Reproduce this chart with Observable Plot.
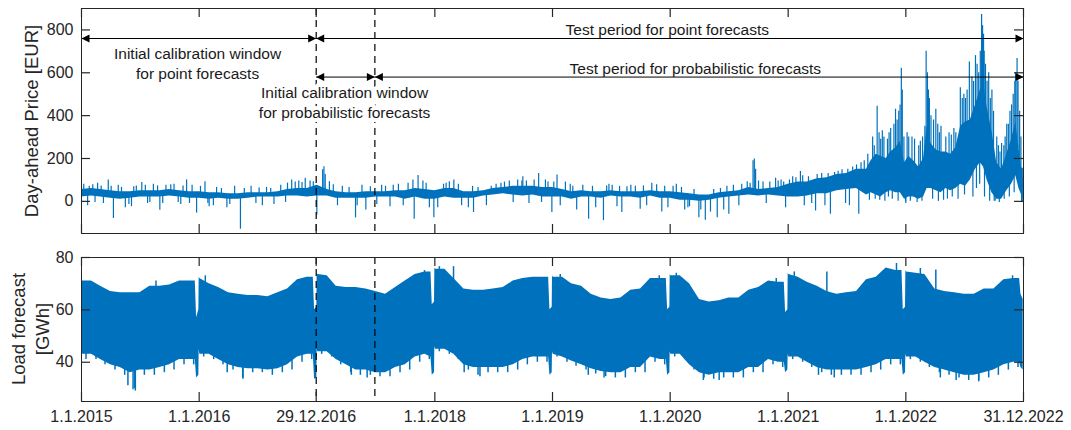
<!DOCTYPE html>
<html><head><meta charset="utf-8">
<script src="https://cdn.jsdelivr.net/npm/d3@7"></script>
<script src="https://cdn.jsdelivr.net/npm/@observablehq/plot@0.6"></script>
<style>
body{margin:0;background:#fff;font-family:"Liberation Sans",Arial,sans-serif;}
#wrap{position:relative;width:1071px;height:430px;overflow:hidden;}
.panel{position:absolute;left:0;}
.ylab{position:absolute;font-size:18.5px;color:#262626;white-space:nowrap;text-align:center;line-height:24px;transform:translate(-50%,-50%) rotate(-90deg);}
</style></head><body>
<div id="wrap">
  <div id="top" class="panel" style="top:0"></div>
  <div id="bot" class="panel" style="top:240px"></div>
  <div class="ylab" style="left:32px;top:120.5px">Day-ahead Price [EUR]</div>
  <div class="ylab" style="left:30.5px;top:328.7px">Load forecast<br>[GWh]</div>
</div>
<script>
// ---------- axes / categories ----------
const xTickDates = ["2015-01-01","2016-01-01","2016-12-29","2018-01-01","2019-01-01","2020-01-01","2021-01-01","2022-01-01","2022-12-31T23:00:00Z"];
const xTickLabels = ["1.1.2015","1.1.2016","29.12.2016","1.1.2018","1.1.2019","1.1.2020","1.1.2021","1.1.2022","31.12.2022"];
const priceTicks = [0,200,400,600,800];
const loadTicks = [40,60,80];
const splitDates = ["2016-12-29","2017-06-29"];

// ---------- price: monthly core band Jan 2015 .. Aug 2021 ----------
const priceMonthLow = [
 20,25,20,15,10,15,20,20,20,25,20,15,
 15,10,15,10,10,15,20,20,20,25,25,20,
 25,25,15,15,15,15,20,20,20,10,20,10,
 10,20,15,15,15,25,30,35,30,25,30,20,
 20,20,10,20,20,15,25,20,20,15,25,15,
 15,5,5,0,5,15,20,25,30,25,30,25,
 20,20,25,35,35,50,55,60];
const priceMonthHigh = [
 55,60,55,50,45,45,50,50,50,55,50,45,
 45,40,40,35,35,40,40,40,45,55,60,60,
 75,55,45,40,40,45,45,45,50,50,60,55,
 50,60,60,45,45,50,60,65,70,70,70,65,
 65,55,45,50,45,45,50,45,45,45,50,45,
 45,40,35,30,30,40,45,50,65,55,60,65,
 80,90,90,105,110,125,130,150];

// ---------- price: core band Sep 2021 .. Dec 2022 ----------
const priceLateDates = ["2021-09-01","2021-09-15","2021-10-01","2021-10-15","2021-11-01","2021-11-15","2021-12-01","2021-12-15","2021-12-28","2022-01-10","2022-01-25","2022-02-10","2022-02-25","2022-03-08","2022-03-20","2022-04-05","2022-04-20","2022-05-05","2022-05-20","2022-06-05","2022-06-20","2022-07-05","2022-07-20","2022-08-05","2022-08-20","2022-08-30","2022-09-10","2022-09-25","2022-10-10","2022-10-25","2022-11-10","2022-11-25","2022-12-08","2022-12-18","2022-12-31"];
const priceLateLow  = [30,40,30,20,40,50,40,40,10,20,20,10,20,60,60,50,40,60,50,60,80,70,100,150,180,160,100,40,10,10,50,80,120,60,10];
const priceLateHigh = [150,190,220,210,200,230,250,280,180,210,190,160,200,350,270,240,230,230,220,250,350,370,380,450,520,560,440,330,180,150,220,290,370,250,100];

// ---------- price: individual hourly spikes ----------
const priceSpikeDates = [
 "2015-01-08","2015-01-20","2015-01-25","2015-02-05","2015-02-12","2015-02-20","2015-03-03","2015-03-10","2015-03-25","2015-04-03","2015-04-10","2015-04-25","2015-05-05","2015-05-17","2015-05-28","2015-06-05","2015-06-12","2015-06-20","2015-07-07","2015-07-18","2015-07-25","2015-08-01","2015-08-12","2015-08-25","2015-09-01","2015-09-10","2015-09-20","2015-10-05","2015-10-15","2015-10-28","2015-11-05","2015-11-12","2015-11-23","2015-12-02","2015-12-10","2015-12-24",
 "2016-01-05","2016-01-19","2016-01-28","2016-02-01","2016-02-14","2016-02-24","2016-03-10","2016-03-27","2016-04-05","2016-04-20","2016-05-08","2016-05-20","2016-06-10","2016-06-25","2016-07-05","2016-07-15","2016-07-28","2016-08-10","2016-08-20","2016-09-10","2016-09-25","2016-10-01","2016-10-14","2016-10-25","2016-11-05","2016-11-15","2016-11-25","2016-12-10","2016-12-20","2016-12-31",
 "2017-01-18","2017-01-22","2017-01-26","2017-02-08","2017-02-20","2017-03-05","2017-03-20","2017-04-10","2017-04-30","2017-05-05","2017-05-20","2017-06-01","2017-06-15","2017-07-05","2017-07-20","2017-08-01","2017-08-15","2017-08-25","2017-09-10","2017-09-25","2017-10-10","2017-10-25","2017-10-29","2017-11-10","2017-11-25","2017-12-05","2017-12-15","2017-12-29",
 "2018-01-10","2018-01-28","2018-02-05","2018-02-15","2018-03-01","2018-03-15","2018-03-25","2018-04-15","2018-04-28","2018-05-01","2018-05-15","2018-06-10","2018-06-25","2018-07-10","2018-07-25","2018-08-05","2018-08-20","2018-09-01","2018-09-15","2018-09-28","2018-10-01","2018-10-12","2018-10-20","2018-11-05","2018-11-19","2018-11-28","2018-12-10","2018-12-18","2018-12-30",
 "2019-01-05","2019-01-15","2019-01-25","2019-02-10","2019-02-25","2019-03-05","2019-03-17","2019-04-05","2019-04-23","2019-05-05","2019-05-15","2019-06-08","2019-06-18","2019-06-25","2019-07-05","2019-07-20","2019-07-28","2019-08-04","2019-08-20","2019-09-01","2019-09-15","2019-09-30","2019-10-10","2019-10-20","2019-11-05","2019-11-20","2019-12-06","2019-12-15","2019-12-25",
 "2020-01-10","2020-01-20","2020-02-05","2020-02-15","2020-02-25","2020-03-01","2020-03-15","2020-03-30","2020-04-05","2020-04-19","2020-05-05","2020-05-15","2020-05-26","2020-06-05","2020-06-15","2020-06-25","2020-07-01","2020-07-15","2020-08-01","2020-08-10","2020-08-27","2020-09-05","2020-09-14","2020-09-18","2020-09-22","2020-10-01","2020-10-15","2020-10-25","2020-11-05","2020-11-23","2020-12-01","2020-12-10","2020-12-18","2020-12-24",
 "2021-01-05","2021-01-15","2021-01-25","2021-02-08","2021-02-15","2021-02-20","2021-03-05","2021-03-15","2021-03-27","2021-04-01","2021-04-15","2021-04-25","2021-05-05","2021-05-12","2021-05-25","2021-06-05","2021-06-17","2021-06-28","2021-07-05","2021-07-10","2021-07-20","2021-08-01","2021-08-08","2021-08-15","2021-08-25",
 "2021-09-05","2021-09-10","2021-09-20","2021-09-25","2021-09-28","2021-10-04","2021-10-10","2021-10-12","2021-10-15","2021-10-20","2021-10-25","2021-10-28","2021-11-05","2021-11-08","2021-11-10","2021-11-15","2021-11-20","2021-11-25","2021-11-30","2021-12-05","2021-12-08","2021-12-10","2021-12-14","2021-12-18","2021-12-21","2021-12-26","2021-12-31",
 "2022-01-01","2022-01-05","2022-01-10","2022-01-15","2022-01-20","2022-01-28","2022-02-05","2022-02-10","2022-02-15","2022-02-20","2022-02-22","2022-03-01","2022-03-05","2022-03-09","2022-03-12","2022-03-15","2022-03-20","2022-03-25","2022-03-28","2022-04-04","2022-04-10","2022-04-12","2022-04-15","2022-04-20","2022-04-28","2022-05-05","2022-05-10","2022-05-15","2022-05-22","2022-05-25","2022-05-30","2022-06-05","2022-06-12","2022-06-19","2022-06-25","2022-06-30","2022-07-02","2022-07-05","2022-07-10","2022-07-17","2022-07-25","2022-07-28","2022-07-30","2022-08-05","2022-08-08","2022-08-10","2022-08-15","2022-08-18","2022-08-20","2022-08-24","2022-08-27","2022-08-30","2022-09-01","2022-09-02","2022-09-05","2022-09-10","2022-09-15","2022-09-18","2022-09-20","2022-09-25","2022-09-30","2022-10-02","2022-10-05","2022-10-10","2022-10-15","2022-10-18","2022-10-20","2022-10-25","2022-11-01","2022-11-02","2022-11-05","2022-11-10","2022-11-15","2022-11-18","2022-11-20","2022-11-25","2022-11-30","2022-12-03","2022-12-05","2022-12-08","2022-12-12","2022-12-15","2022-12-20","2022-12-24","2022-12-26","2022-12-28"];
const priceSpikeValues = [
 80,-20,70,78,-5,85,72,-10,100,70,-80,75,65,-30,-15,-25,68,72,88,75,-10,-5,80,72,-42,-10,75,78,80,-5,-15,72,100,-10,75,-55,
 70,92,-10,-25,-20,65,60,-30,-15,70,-130,60,70,-10,62,-20,65,60,-15,75,-5,85,100,90,95,88,108,95,92,-64,
 147,162,125,92,78,-20,70,65,-77,-20,75,-40,68,-15,75,70,-25,75,80,-20,85,100,-83,121,95,85,-30,-77,
 -30,80,85,92,100,80,-20,-30,70,-52,65,-20,70,80,85,90,95,-5,100,95,115,95,-10,100,130,-5,100,90,-52,
 90,123,-20,90,80,70,-40,75,-83,70,-30,-90,72,80,75,-25,70,-52,68,75,70,-37,72,-20,85,78,-50,70,-30,
 70,80,65,-40,-30,-25,55,-77,-40,-88,-50,55,-77,60,-40,70,-60,75,-20,80,92,85,190,198,150,95,90,-10,90,108,95,100,90,-30,
 100,115,110,140,120,-20,115,-10,-45,125,130,-20,130,-60,135,140,147,-10,150,-20,160,170,-60,180,190,
 220,5,300,260,10,444,320,5,290,330,300,0,290,20,320,340,10,360,430,380,0,420,450,621,520,300,0,
 -10,320,300,0,300,290,-5,260,280,0,300,350,701,600,520,480,400,10,380,430,360,0,320,350,5,300,10,320,310,20,340,320,10,530,480,500,30,480,520,650,580,20,560,680,60,640,600,80,700,872,820,780,700,20,640,560,600,0,480,520,420,0,0,300,260,-5,230,270,260,10,300,360,360,20,420,450,500,40,560,600,667,560,420,300,-5,-5];

// ---------- load: monthly band Jan 2015 .. Dec 2022 ----------
const loadMonthLow = [
 43,43,41,39,38,36,37,37,38,39,41,41,
 45,43,41,39,38,37.5,37.5,37,37.5,39,42,43,
 45,44,41,39,37,37,36,36,38,39,42,43,
 46,45,43,39,38,38,38,38,39,41,42,42,
 44,42,40.5,39,37.5,36.5,36,36,38,38,42,41,
 44,43,39,36,35,36,36,36,38,38,41,40,
 43,42,40,38,37,37,37,37,38,39,41,41,
 43,42,40,38,37,36,35,35,36,37,39,40];
const loadMonthHigh = [
 71,71,69,67,66.5,66.5,66.5,69,69,69.5,71,71,
 72.5,70,68.5,66.5,66,65.5,65.5,65,66.5,68,71.5,72.5,
 74,73,69,68.5,68.5,68,67,66,68.5,71,73.5,74.5,
 76,75.5,72,68,67.5,67.5,68,68.5,71,72,72.5,72.5,
 73,72.5,70,69,66,64.5,64,64.5,67.5,68,72,72,
 73.5,73,70,64,63,63.5,64.5,64.5,67.5,68.5,71,70.5,
 74,72.5,70.5,69,67,66,66.5,67,71.5,72.5,76,75,
 75,74,73.5,68,67,66.5,66,66,68,68,71.5,72];
// monthly minimum (weekend / holiday hours), drawn mid-month
const loadMonthMin = [
 41,41,39,37,35,30,35,35,36,37,39,39,
 42,41,39,37,34,36,36,35,36,37,40,41,
 43,42,39,36,35,35,34.5,34.5,36,37,40,41,
 44,43,41,37,35,36,36,36,37,39,40,40,
 42,40,38.5,37,35.5,34.5,34,34,36,36,40,39,
 42,41,37,34,33.5,34,34,34,36,36,39,38,
 41,40,38,36,35,35,35,35,36,37,39,39,
 41,40,38,36,35,34,33,33,34,35,37,38];

// ---------- load: Christmas holiday dips ----------
const loadDipDates = [
 "2015-12-20","2015-12-24","2015-12-31","2016-01-03",
 "2016-12-20","2016-12-24","2016-12-31","2017-01-03",
 "2017-12-20","2017-12-24","2017-12-31","2018-01-03",
 "2018-12-20","2018-12-24","2018-12-31","2019-01-03",
 "2019-12-20","2019-12-24","2019-12-31","2020-01-03",
 "2020-12-20","2020-12-24","2020-12-31","2021-01-03",
 "2021-12-20","2021-12-24","2021-12-31","2022-01-03",
 "2022-12-20","2022-12-24","2022-12-31"];
const loadDipLow = [
 41,34,35,43, 43,33.5,34,44, 42,35,36,45, 42,35,36,43, 41,35,36,43, 40,36,37,42, 41,35,36,42, 40,38,37];
const loadDipHigh = [
 71,57,60,72, 72.5,60,61,73.5, 74.5,62,63,75.5, 72.5,60,61,72.5, 72,60,61,73, 70.5,59,60,73.5, 75,60,61,74.5, 72,66,64];

// ---------- load: single-day spikes ----------
const loadSpikeDates = ["2015-05-25","2015-06-10","2015-06-17","2016-03-28","2016-05-16","2017-04-17","2017-06-05","2018-04-02","2018-05-21","2019-04-22","2019-06-10","2020-04-13","2020-06-01","2021-04-05","2021-05-24","2022-04-18","2022-06-06","2022-08-15",
 "2018-02-28","2021-01-20","2021-05-01","2021-10-19","2021-12-03","2022-02-15","2022-04-04","2017-11-30","2015-08-20","2016-01-20","2018-01-15","2019-01-25","2020-01-20","2019-11-28","2020-11-25","2022-11-28"];
const loadSpikeValues = [31,29.5,29,36,33.5,35,34,36,34.5,35,34,33,33,35,34,34,33,32.5,
 76.5,74.5,74.5,73.9,77.7,75.8,75.2,75,71,73,76.5,73.5,74,73,72,73];

// ---------- annotations ----------
const arrowStart = ["2015-01-01","2016-12-29","2016-12-29","2017-06-29"];
const arrowEnd   = ["2016-12-29","2022-12-31T23:00:00Z","2017-06-29","2022-12-31T23:00:00Z"];
const arrowY     = [760,760,580,580];
const annotText  = ["Initial calibration window\nfor point forecasts","Test period for point forecasts","Initial calibration window\nfor probabilistic forecasts","Test period for probabilistic forecasts"];
const annotDates = ["2015-12-27","2019-12-23","2017-03-27","2020-03-19"];
const annotY     = [648,805,467,622];

// ---------- build tables ----------
const P = s => new Date(s.length === 10 ? s + "T00:00:00Z" : s);
const blue = "#0072BD", ink = "#262626";
const xDomain = [P("2015-01-01"), P("2022-12-31T23:00:00Z")];
const xTicks = xTickDates.map(P);
const xLabelMap = new Map(xTicks.map((d, i) => [+d, xTickLabels[i]]));
const font = "'Liberation Sans', Arial, sans-serif";

const months80 = d3.utcMonth.range(P("2015-01-01"), P("2021-09-01"));
const priceBand = months80.map((d, i) => ({date: d, low: priceMonthLow[i], high: priceMonthHigh[i]}))
  .concat(priceLateDates.map((s, i) => ({date: P(s), low: priceLateLow[i], high: priceLateHigh[i]})));
const bis = d3.bisector(d => d.date).right;
function midAt(band, d) {
  const i = Math.max(0, bis(band, d) - 1);
  return (band[i].low + band[i].high) / 2;
}
const priceSpikes = priceSpikeDates.map((s, i) => {
  const d = P(s); return {date: d, base: midAt(priceBand, d), value: priceSpikeValues[i]};
});

const months96 = d3.utcMonth.range(P("2015-01-01"), P("2023-01-01"));
const loadBand = months96.map((d, i) => ({date: d, low: loadMonthLow[i], high: loadMonthHigh[i]}))
  .concat(loadDipDates.map((s, i) => ({date: P(s), low: loadDipLow[i], high: loadDipHigh[i]})))
  .sort((a, b) => a.date - b.date);
const loadMins = months96.map((d, i) => {
  const m = d3.utcDay.offset(d, 14); return {date: m, base: midAt(loadBand, m), value: loadMonthMin[i]};
});
const loadSpikes = loadSpikeDates.map((s, i) => {
  const d = P(s); return {date: d, base: midAt(loadBand, d), value: loadSpikeValues[i]};
});

const arrows = arrowStart.map((s, i) => ({x1: P(s), x2: P(arrowEnd[i]), y: arrowY[i]}));
const annots = annotText.map((t, i) => ({date: P(annotDates[i]), y: annotY[i], text: t}));
const splits = splitDates.map(P);

const headRight = {draw(c) { c.moveTo(0, 0); c.lineTo(-8, -4); c.lineTo(-8, 4); c.closePath(); }};
const headLeft  = {draw(c) { c.moveTo(0, 0); c.lineTo(8, -4); c.lineTo(8, 4); c.closePath(); }};

const W = 1071, ML = 81, MR = 48, TICK = 9;
function frameAxes(yTicks, innerH, showX) {
  const innerW = W - ML - MR;
  const marks = [
    Plot.frame({stroke: ink, strokeWidth: 1}),
    // inward tick marks on all four sides (rules trimmed by insets to TICK px)
    Plot.ruleX(xTicks, {stroke: ink, strokeWidth: 1.2, insetTop: innerH - TICK}),
    Plot.ruleX(xTicks, {stroke: ink, strokeWidth: 1.2, insetBottom: innerH - TICK}),
    Plot.ruleY(yTicks, {stroke: ink, strokeWidth: 1.2, insetRight: innerW - TICK}),
    Plot.ruleY(yTicks, {stroke: ink, strokeWidth: 1.2, insetLeft: innerW - TICK}),
    // tick labels
    Plot.axisY({anchor: "left", ticks: yTicks, tickSize: 0, tickPadding: 8, fill: ink, fontSize: 16})
  ];
  if (showX) marks.push(Plot.axisX({anchor: "bottom", ticks: xTicks, tickSize: 0, tickPadding: 9, fill: ink, fontSize: 16, tickFormat: d => xLabelMap.get(+d)}));
  return marks;
}

const textOpts = {x: "date", y: "y", text: "text", fontSize: 15.5, fill: "#1a1a1a", lineHeight: 1.29, textAnchor: "middle"};

const topPlot = Plot.plot({
  width: W, height: 240,
  marginLeft: ML, marginRight: MR, marginTop: 8, marginBottom: 7,
  x: {type: "utc", domain: xDomain, label: null, axis: null},
  y: {domain: [-150, 900], label: null},
  style: {fontFamily: font, fontSize: "16px", color: ink, background: "transparent", overflow: "visible"},
  marks: [
    Plot.areaY(priceBand, {x: "date", y1: "low", y2: "high", fill: blue}),
    Plot.ruleX(priceSpikes, {x: "date", y1: "base", y2: "value", stroke: blue, strokeWidth: 1.2}),
    Plot.ruleX(splits, {stroke: "black", strokeWidth: 1.2, strokeDasharray: "7,5"}),
    Plot.link(arrows, {x1: "x1", x2: "x2", y1: "y", y2: "y", stroke: "black", strokeWidth: 1}),
    Plot.dot(arrows, {x: "x2", y: "y", symbol: headRight, fill: "black", stroke: "none"}),
    Plot.dot(arrows, {x: "x1", y: "y", symbol: headLeft, fill: "black", stroke: "none"}),
    // the label that sits over the dashed lines gets a white background halo
    Plot.text(annots, {...textOpts, filter: (d, i) => i === 2, stroke: "white", strokeWidth: 8, strokeLinejoin: "round"}),
    Plot.text(annots, {...textOpts, filter: (d, i) => i !== 2}),
    ...frameAxes(priceTicks, 240 - 8 - 7, false)
  ]
});
document.getElementById("top").appendChild(topPlot);

const botPlot = Plot.plot({
  width: W, height: 190,
  marginLeft: ML, marginRight: MR, marginTop: 17, marginBottom: 29,
  x: {type: "utc", domain: xDomain, label: null},
  y: {domain: [25, 80], label: null},
  style: {fontFamily: font, fontSize: "16px", color: ink, background: "transparent", overflow: "visible"},
  marks: [
    Plot.areaY(loadBand, {x: "date", y1: "low", y2: "high", fill: blue}),
    Plot.ruleX(loadMins, {x: "date", y1: "base", y2: "value", stroke: blue, strokeWidth: 1.5}),
    Plot.ruleX(loadSpikes, {x: "date", y1: "base", y2: "value", stroke: blue, strokeWidth: 1.5}),
    Plot.ruleX(splits, {stroke: "black", strokeWidth: 1.2, strokeDasharray: "7,5"}),
    ...frameAxes(loadTicks, 190 - 17 - 29, true)
  ]
});
document.getElementById("bot").appendChild(botPlot);
</script>
</body></html>
